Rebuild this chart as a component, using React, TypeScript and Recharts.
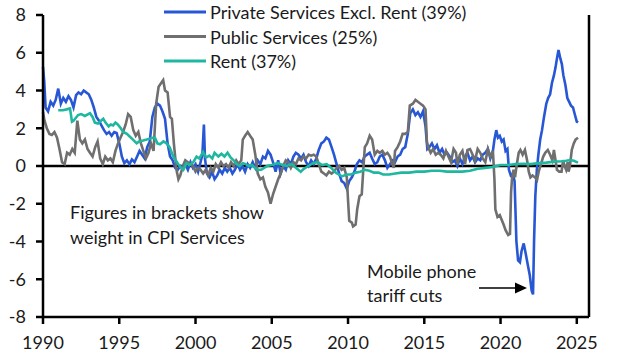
import { Line, LineChart, ReferenceLine, XAxis, YAxis } from 'recharts'

// [year, % y/y contribution] readings
const privateServices: [number, number][] = [
  [1990.0, 5.25], [1990.08, 4.5], [1990.17, 3.1], [1990.33, 2.9], [1990.5, 3.4], [1990.67, 3.2], [1990.83, 3.5],
  [1991.0, 4.1], [1991.17, 3.3], [1991.33, 3.6], [1991.5, 3.4], [1991.67, 3.7], [1991.83, 3.5], [1992.0, 3.1],
  [1992.17, 3.75], [1992.33, 3.9], [1992.5, 3.8], [1992.67, 4.0], [1992.83, 3.9], [1993.0, 3.8], [1993.17, 3.5],
  [1993.33, 3.1], [1993.5, 2.6], [1993.67, 2.4], [1993.83, 2.15], [1994.0, 1.9], [1994.17, 1.7], [1994.33, 1.8],
  [1994.5, 1.6], [1994.67, 1.8], [1994.83, 1.75], [1995.0, 1.2], [1995.17, 0.5], [1995.33, 0.15], [1995.5, 0.3],
  [1995.67, 0.1], [1995.83, 0.35], [1996.0, 0.2], [1996.17, 0.5], [1996.33, 0.8], [1996.5, 0.6], [1996.67, 0.4],
  [1996.83, 1.0], [1997.0, 1.3], [1997.17, 2.6], [1997.33, 3.1], [1997.5, 3.3], [1997.67, 3.2], [1997.83, 2.9],
  [1998.0, 2.5], [1998.17, 1.2], [1998.33, 0.5], [1998.5, 0.3], [1998.67, -0.1], [1998.83, -0.2], [1999.0, 0.0],
  [1999.17, -0.1], [1999.33, 0.1], [1999.5, -0.2], [1999.67, 0.2], [1999.83, -0.1], [2000.0, 0.1], [2000.17, -0.3],
  [2000.33, 0.2], [2000.45, 0.6], [2000.55, 2.2], [2000.62, 0.4], [2000.75, -0.4], [2000.92, -0.6], [2001.08, -0.3],
  [2001.25, -0.7], [2001.42, -0.5], [2001.58, -0.2], [2001.75, -0.4], [2001.92, -0.1], [2002.08, -0.3], [2002.25, -0.1],
  [2002.42, -0.4], [2002.58, -0.2], [2002.75, 0.1], [2002.92, -0.2], [2003.08, 0.0], [2003.25, -0.3], [2003.42, 0.1],
  [2003.58, -0.1], [2003.75, 0.2], [2003.92, -0.1], [2004.08, 0.3], [2004.25, 0.1], [2004.42, 0.5], [2004.58, 0.4],
  [2004.75, 0.8], [2004.92, 0.6], [2005.08, 0.2], [2005.25, -0.3], [2005.42, 0.3], [2005.58, -0.4], [2005.75, 0.0],
  [2005.92, -0.2], [2006.08, 0.3], [2006.25, 0.1], [2006.42, 0.5], [2006.58, 0.7], [2006.75, 0.6], [2006.92, 0.4],
  [2007.08, 0.6], [2007.25, 0.2], [2007.42, 0.0], [2007.58, 0.3], [2007.75, 0.1], [2007.92, 0.4], [2008.08, 0.85],
  [2008.25, 1.2], [2008.42, 1.3], [2008.58, 1.5], [2008.75, 1.4], [2008.92, 1.0], [2009.08, 0.6], [2009.25, 0.1],
  [2009.42, -0.4], [2009.58, -0.8], [2009.75, -0.9], [2009.92, -1.2], [2010.08, -0.8], [2010.25, -0.6], [2010.42, -0.3],
  [2010.58, 0.1], [2010.75, 0.3], [2010.92, 0.2], [2011.08, 0.5], [2011.25, 0.6], [2011.42, 0.7], [2011.58, 0.4],
  [2011.75, 0.1], [2011.92, 0.2], [2012.08, 0.5], [2012.25, 0.6], [2012.42, 0.3], [2012.58, -0.1], [2012.75, 0.1],
  [2012.92, 0.3], [2013.08, 0.2], [2013.25, 0.5], [2013.42, 0.6], [2013.58, 0.9], [2013.75, 1.0], [2013.92, 1.7],
  [2014.08, 2.8], [2014.25, 3.0], [2014.42, 2.7], [2014.58, 2.85], [2014.75, 2.6], [2014.92, 2.9], [2015.08, 2.1],
  [2015.2, 0.9], [2015.33, 1.0], [2015.5, 1.2], [2015.67, 0.9], [2015.83, 1.1], [2016.0, 0.7], [2016.17, 0.9],
  [2016.33, 0.6], [2016.5, 0.7], [2016.67, 0.5], [2016.83, 0.2], [2017.0, 0.3], [2017.17, 0.0], [2017.33, 0.4],
  [2017.5, 0.1], [2017.67, 0.5], [2017.83, 0.7], [2018.0, 0.3], [2018.17, 0.5], [2018.33, 0.2], [2018.5, 0.4],
  [2018.67, 0.3], [2018.83, 0.6], [2019.0, 0.7], [2019.17, 0.9], [2019.33, 0.4], [2019.5, 0.8], [2019.6, 1.4],
  [2019.72, 1.9], [2019.83, 1.5], [2019.95, 1.6], [2020.08, 1.3], [2020.2, 1.4], [2020.33, 0.8], [2020.45, 0.9],
  [2020.55, -0.2], [2020.67, -0.5], [2020.8, -0.4], [2020.92, -0.8], [2021.04, -4.0], [2021.15, -5.0], [2021.27, -5.1],
  [2021.38, -4.5], [2021.52, -4.1], [2021.64, -4.6], [2021.78, -5.2], [2021.92, -5.8], [2022.04, -6.6], [2022.13, -6.8],
  [2022.2, -3.9], [2022.28, -1.6], [2022.38, -0.2], [2022.48, 0.6], [2022.6, 1.4], [2022.72, 1.9], [2022.85, 2.6],
  [2023.0, 3.3], [2023.12, 3.6], [2023.25, 3.8], [2023.37, 4.4], [2023.5, 4.8], [2023.6, 5.2], [2023.7, 5.7],
  [2023.8, 6.15], [2023.92, 5.7], [2024.02, 5.4], [2024.12, 4.8], [2024.25, 4.3], [2024.38, 3.6], [2024.5, 3.4],
  [2024.62, 3.2], [2024.75, 3.1], [2024.88, 2.7], [2025.0, 2.35], [2025.08, 2.3],
]

const publicServices: [number, number][] = [
  [1990.0, 2.85], [1990.1, 2.4], [1990.25, 2.0], [1990.42, 1.7], [1990.58, 1.65], [1990.75, 1.8], [1990.92, 1.5],
  [1991.08, 0.9], [1991.25, 0.2], [1991.42, 0.1], [1991.58, 0.7], [1991.75, 0.6], [1991.92, 0.9], [1992.08, 0.7],
  [1992.25, 2.4], [1992.42, 1.4], [1992.58, 1.2], [1992.75, 1.4], [1992.92, 0.9], [1993.08, 0.7], [1993.25, 0.5],
  [1993.42, 1.0], [1993.58, 1.3], [1993.75, 0.4], [1993.92, 0.1], [1994.08, 0.5], [1994.25, 0.3], [1994.42, 0.4],
  [1994.58, 0.2], [1994.75, 0.8], [1994.92, 1.2], [1995.08, 1.5], [1995.25, 1.8], [1995.42, 2.2], [1995.58, 2.75],
  [1995.75, 2.6], [1995.92, 1.9], [1996.08, 1.6], [1996.25, 1.8], [1996.42, 1.2], [1996.58, 0.8], [1996.75, 0.4],
  [1996.92, 0.7], [1997.08, 1.2], [1997.25, 0.8], [1997.42, 3.3], [1997.58, 4.2], [1997.75, 4.4], [1997.88, 4.55],
  [1998.0, 4.0], [1998.17, 3.9], [1998.33, 2.6], [1998.45, 2.5], [1998.58, 1.2], [1998.75, -0.2], [1998.88, -0.7],
  [1999.0, -0.5], [1999.17, 0.0], [1999.33, 0.3], [1999.5, 0.2], [1999.67, 0.1], [1999.83, 0.0], [2000.0, -0.3],
  [2000.17, -0.1], [2000.33, -0.2], [2000.5, -0.4], [2000.67, -0.2], [2000.83, -0.5], [2001.0, -0.1], [2001.17, -0.3],
  [2001.33, 0.1], [2001.5, -0.1], [2001.67, 0.2], [2001.83, 0.0], [2002.0, 0.1], [2002.17, -0.1], [2002.33, 0.2],
  [2002.5, 0.0], [2002.67, 0.3], [2002.83, 0.1], [2003.0, 0.3], [2003.1, 1.4], [2003.25, 1.6], [2003.42, 1.8],
  [2003.58, 1.6], [2003.75, 1.4], [2003.92, 0.6], [2004.08, -0.4], [2004.25, -0.7], [2004.42, -0.6], [2004.58, -1.1],
  [2004.75, -1.4], [2004.92, -2.0], [2005.08, -1.5], [2005.25, -1.1], [2005.42, -0.7], [2005.58, -0.4], [2005.75, 0.0],
  [2005.92, 0.3], [2006.08, 0.2], [2006.25, -0.1], [2006.42, 0.2], [2006.58, 0.1], [2006.75, 0.4], [2006.92, 0.3],
  [2007.08, 0.5], [2007.25, 0.4], [2007.42, 0.6], [2007.58, 0.55], [2007.75, 0.6], [2007.92, 0.5], [2008.08, 0.1],
  [2008.25, -0.3], [2008.42, -0.4], [2008.58, -0.5], [2008.75, -0.3], [2008.92, -0.4], [2009.08, -0.3], [2009.25, -0.1],
  [2009.42, 0.0], [2009.58, -0.2], [2009.75, -0.1], [2009.92, -0.6], [2010.0, -1.8], [2010.08, -2.9], [2010.25, -3.0],
  [2010.33, -3.2], [2010.5, -3.1], [2010.6, -2.3], [2010.75, -1.6], [2010.9, -1.5], [2011.0, -0.2], [2011.1, 1.0],
  [2011.25, 1.2], [2011.42, 1.6], [2011.58, 1.4], [2011.75, 0.6], [2011.92, 0.8], [2012.08, 0.7], [2012.25, 0.8],
  [2012.42, 0.6], [2012.58, 0.7], [2012.75, 0.5], [2012.9, 0.1], [2013.0, -0.1], [2013.08, 0.8], [2013.25, 1.0],
  [2013.42, 1.3], [2013.58, 1.7], [2013.75, 1.7], [2013.92, 1.8], [2014.05, 3.2], [2014.25, 3.3], [2014.42, 3.5],
  [2014.58, 3.4], [2014.75, 3.3], [2014.92, 3.2], [2015.08, 3.0], [2015.17, 1.3], [2015.25, 1.0], [2015.42, 0.7],
  [2015.58, 0.9], [2015.75, 0.6], [2015.92, 0.7], [2016.08, 0.6], [2016.25, 0.4], [2016.42, 0.8], [2016.58, 0.5],
  [2016.75, 0.2], [2016.92, 0.9], [2017.08, 0.7], [2017.17, 0.1], [2017.33, 0.6], [2017.5, 0.8], [2017.67, 0.1],
  [2017.83, 0.85], [2018.0, 0.9], [2018.17, 0.6], [2018.33, 0.3], [2018.5, 0.9], [2018.67, 0.7], [2018.83, 0.4],
  [2019.0, 0.2], [2019.17, 0.9], [2019.33, 0.5], [2019.5, 0.8], [2019.6, -0.7], [2019.66, -2.3], [2019.8, -2.7],
  [2019.95, -2.6], [2020.1, -2.9], [2020.2, -3.1], [2020.33, -3.4], [2020.5, -3.65], [2020.62, -3.6], [2020.69, -1.4],
  [2020.75, -0.7], [2020.85, -0.2], [2020.95, -0.6], [2021.05, 0.0], [2021.19, 0.7], [2021.3, 0.85], [2021.45, 0.6],
  [2021.6, 0.85], [2021.74, 0.3], [2021.85, -0.3], [2021.96, -0.6], [2022.1, -0.5], [2022.25, -0.6], [2022.39, -0.75],
  [2022.5, -0.3], [2022.65, 0.1], [2022.8, 0.5], [2022.93, 0.7], [2023.1, 0.85], [2023.25, 0.6], [2023.4, 0.3],
  [2023.5, 0.85], [2023.7, -0.2], [2023.85, -0.3], [2024.0, -0.3], [2024.1, 0.3], [2024.2, 0.0], [2024.3, -0.2],
  [2024.4, 0.2], [2024.46, -0.3], [2024.55, 0.0], [2024.67, 0.85], [2024.8, 1.2], [2024.92, 1.4], [2025.08, 1.5],
]

const rent: [number, number][] = [
  [1991.0, 2.95], [1991.3, 2.95], [1991.55, 3.0], [1991.77, 3.05], [1991.9, 2.35], [1992.0, 2.4], [1992.3, 2.7],
  [1992.5, 2.75], [1992.75, 2.65], [1993.08, 2.8], [1993.25, 2.6], [1993.4, 2.3], [1993.6, 2.25], [1993.8, 2.4],
  [1993.95, 2.5], [1994.1, 2.3], [1994.3, 2.1], [1994.45, 2.2], [1994.6, 2.15], [1994.75, 2.3], [1994.9, 2.2],
  [1995.1, 2.0], [1995.26, 1.8], [1995.5, 1.7], [1995.7, 1.55], [1995.9, 1.4], [1996.14, 1.2], [1996.3, 1.3],
  [1996.57, 1.35], [1996.8, 1.4], [1997.0, 1.45], [1997.2, 1.5], [1997.34, 1.5], [1997.5, 1.2], [1997.67, 1.15],
  [1997.9, 1.3], [1998.1, 1.2], [1998.3, 1.0], [1998.54, 0.5], [1998.7, 0.3], [1998.87, 0.1], [1999.0, -0.05],
  [1999.2, -0.2], [1999.4, 0.15], [1999.6, 0.05], [1999.85, 0.2], [2000.07, 0.5], [2000.25, 0.4], [2000.5, 0.75],
  [2000.7, 0.45], [2000.9, 0.55], [2001.1, 0.4], [2001.25, 0.7], [2001.5, 0.5], [2001.7, 0.65], [2001.9, 0.5],
  [2002.1, 0.7], [2002.3, 0.45], [2002.5, 0.3], [2002.7, 0.1], [2002.9, 0.0], [2003.1, 0.15], [2003.3, 0.1],
  [2003.5, 0.0], [2003.7, 0.05], [2003.9, -0.1], [2004.1, -0.2], [2004.3, -0.2], [2004.5, -0.1], [2004.7, 0.0],
  [2005.0, 0.05], [2005.4, 0.15], [2005.7, 0.05], [2006.0, 0.0], [2006.3, 0.1], [2006.6, -0.1], [2006.9, -0.3],
  [2007.1, -0.15], [2007.4, 0.0], [2007.7, 0.15], [2008.0, 0.2], [2008.3, 0.05], [2008.6, 0.1], [2008.9, -0.1],
  [2009.2, -0.35], [2009.4, -0.45], [2009.6, -0.55], [2009.9, -0.45], [2010.2, -0.45], [2010.5, -0.35], [2010.8, -0.3],
  [2011.1, -0.2], [2011.4, -0.25], [2011.7, -0.35], [2012.0, -0.35], [2012.3, -0.45], [2012.7, -0.45], [2013.1, -0.4],
  [2013.5, -0.35], [2014.0, -0.35], [2014.5, -0.3], [2015.0, -0.3], [2015.5, -0.25], [2016.0, -0.25], [2016.5, -0.3],
  [2017.0, -0.3], [2017.5, -0.3], [2018.0, -0.25], [2018.5, -0.15], [2019.0, -0.1], [2019.5, -0.05], [2020.0, 0.05],
  [2020.5, 0.05], [2021.0, 0.1], [2021.5, 0.12], [2022.0, 0.1], [2022.5, 0.15], [2023.0, 0.18], [2023.5, 0.23],
  [2024.0, 0.25], [2024.3, 0.28], [2024.6, 0.32], [2024.8, 0.28], [2025.08, 0.18],
]

const yearTicks = [1990, 1995, 2000, 2005, 2010, 2015, 2020, 2025]
const valueTicks = [-8, -6, -4, -2, 0, 2, 4, 6, 8]

const series = [
  { key: 'private', label: 'Private Services Excl. Rent (39%)', color: '#2757d4', points: privateServices },
  { key: 'public', label: 'Public Services (25%)', color: '#6f6f6f', points: publicServices },
  { key: 'rent', label: 'Rent (37%)', color: '#1fb79f', points: rent },
]

const FONT = 'Lato, "Open Sans", sans-serif'
const TEXT = '#1a1a1a'
const FS = 18
const tickStyle = { fontSize: FS, fill: TEXT, fontFamily: FONT }
const axisStroke = { stroke: '#000', strokeWidth: 2.5 }

export default function App() {
  return (
    <div style={{ position: 'absolute', left: 0, top: 0, width: 632, height: 359, background: '#fff', fontFamily: FONT }}>
      <LineChart width={632} height={359} margin={{ top: 15, right: 0, bottom: 0, left: 0 }}>
        <XAxis
          dataKey="t"
          type="number"
          domain={[1990, 2025.8]}
          ticks={yearTicks}
          allowDuplicatedCategory={false}
          tick={tickStyle}
          axisLine={axisStroke}
          tickLine={axisStroke}
          tickSize={7}
          tickMargin={12}
          height={42}
        />
        <YAxis
          yAxisId="left"
          domain={[-8, 8]}
          ticks={valueTicks}
          tick={tickStyle}
          axisLine={axisStroke}
          tickLine={axisStroke}
          tickSize={7}
          tickMargin={10}
          width={43}
          interval={0}
        />
        <YAxis
          yAxisId="right"
          orientation="right"
          domain={[-8, 8]}
          ticks={valueTicks}
          tick={tickStyle}
          axisLine={axisStroke}
          tickLine={axisStroke}
          tickSize={6}
          tickMargin={13}
          width={43}
          interval={0}
        />
        <ReferenceLine yAxisId="left" y={0} stroke="#000" strokeWidth={2.5} />
        {series.map((s) => (
          <Line
            key={s.key}
            yAxisId="left"
            data={s.points.map(([t, v]) => ({ t, v }))}
            dataKey="v"
            type="linear"
            stroke={s.color}
            strokeWidth={2.6}
            dot={false}
            isAnimationActive={false}
          />
        ))}
      </LineChart>

      <svg width={632} height={359} style={{ position: 'absolute', left: 0, top: 0, pointerEvents: 'none' }}>
        {series.map((s, i) => (
          <g key={s.key}>
            <line x1={164} x2={206} y1={12 + i * 24.5} y2={12 + i * 24.5} stroke={s.color} strokeWidth={3} />
            <text x={210} y={12 + i * 24.5} dominantBaseline="central" fontSize={FS} fill={TEXT} fontFamily={FONT}>
              {s.label}
            </text>
          </g>
        ))}
        <text x={70} y={219} fontSize={FS} fill={TEXT} fontFamily={FONT}>Figures in brackets show</text>
        <text x={70} y={244} fontSize={FS} fill={TEXT} fontFamily={FONT}>weight in CPI Services</text>
        <text x={367} y={278} fontSize={FS} fill={TEXT} fontFamily={FONT}>Mobile phone</text>
        <text x={367} y={302} fontSize={FS} fill={TEXT} fontFamily={FONT}>tariff cuts</text>
        <line x1={479} y1={288} x2={517} y2={288} stroke="#000" strokeWidth={1.5} />
        <polygon points="515,282.5 527,288 515,293.5" fill="#000" />
      </svg>
    </div>
  )
}
